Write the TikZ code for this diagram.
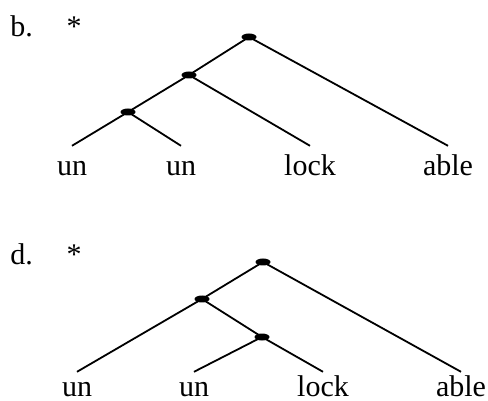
\documentclass[tikz,border=0pt]{standalone}
\usepackage{fontspec}
\setmainfont{Liberation Serif}
\usetikzlibrary{shapes.geometric}

\begin{document}
\begin{tikzpicture}[x=1pt,y=-1pt,
  joint/.style={ellipse,fill=black,inner sep=0pt,minimum width=15pt,minimum height=7pt},
  leaf/.style={anchor=base,font=\fontsize{30}{36}\selectfont,text height=30pt,text depth=0pt,inner sep=0pt},
  lbl/.style={anchor=base,font=\fontsize{30}{36}\selectfont,inner sep=0pt},
  branch/.style={black,line width=1.8pt}]
\useasboundingbox (0,0) rectangle (488,401);

% tree b
\node[lbl] (blab) at (21.5,37) {b.};
\node[lbl] (bstar) at (74,37) {*};
\node[joint] (b1) at (249,37) {};
\node[joint] (b2) at (189,75) {};
\node[joint] (b3) at (128,112) {};
\foreach \n/\x/\w in {bun1/72/un, bun2/181/un, block/310/lock, bable/448/able} {
 \node[leaf] (\n) at (\x,176) {\w};
}
\draw[branch] (b1.center) -- (b2.center) -- (b3.center) -- (bun1.north);
\draw[branch] (b3.center) -- (bun2.north);
\draw[branch] (b2.center) -- (block.north);
\draw[branch] (b1.center) -- (bable.north);

% tree d
\node[lbl] (dlab) at (21.5,265) {d.};
\node[lbl] (dstar) at (74,265) {*};
\node[joint] (d1) at (263,262) {};
\node[joint] (d2) at (202,299) {};
\node[joint] (d3) at (262,337) {};
\foreach \n/\x/\w in {dun1/77/un, dun2/194/un, dlock/323/lock, dable/461/able} {
 \node[leaf,text height=24pt] (\n) at (\x,396) {\w};
}
\draw[branch] (d1.center) -- (d2.center) -- (dun1.north);
\draw[branch] (d2.center) -- (d3.center) -- (dun2.north);
\draw[branch] (d3.center) -- (dlock.north);
\draw[branch] (d1.center) -- (dable.north);
\end{tikzpicture}
\end{document}
